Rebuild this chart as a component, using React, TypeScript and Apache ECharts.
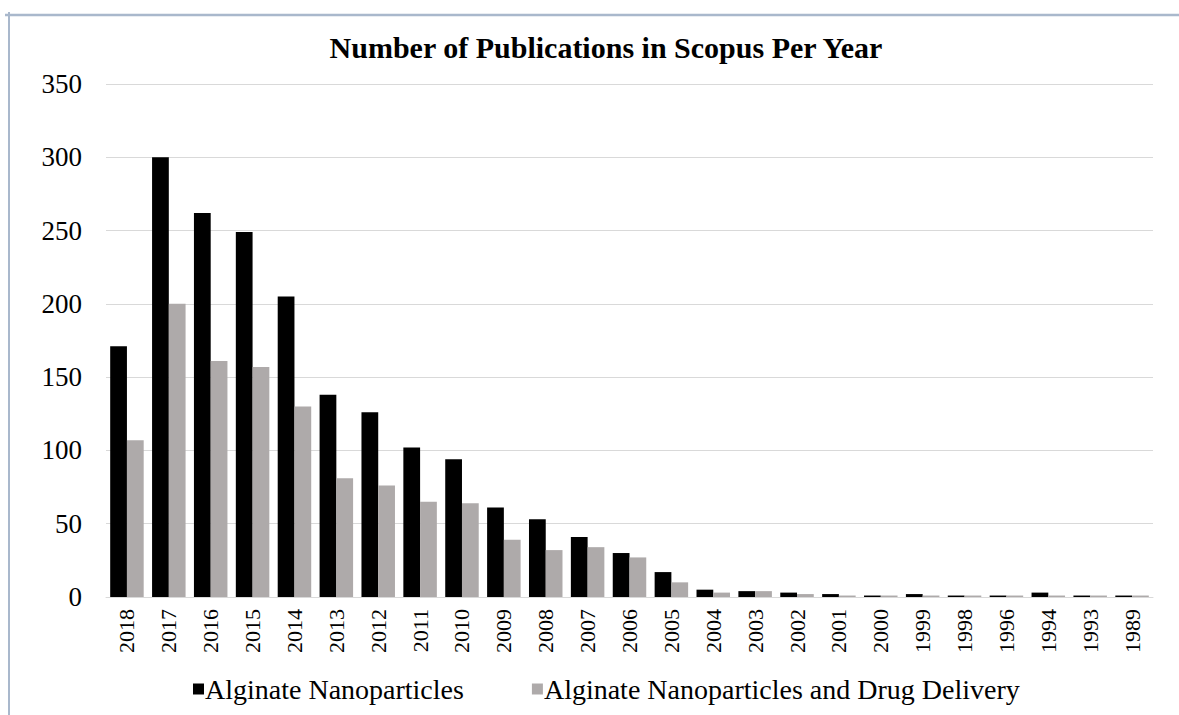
import React, { useEffect, useRef } from "react";
import * as echarts from "echarts";

const years = ["2018","2017","2016","2015","2014","2013","2012","2011","2010","2009","2008","2007","2006","2005","2004","2003","2002","2001","2000","1999","1998","1996","1994","1993","1989"];
const alginateNano = [171,300,262,249,205,138,126,102,94,61,53,41,30,17,5,4,3,2,1,2,1,1,3,1,1];
const alginateDrug = [107,200,161,157,130,81,76,65,64,39,32,34,27,10,3,4,2,1,1,1,1,1,1,1,1];
const seriesNames = ["Alginate Nanoparticles", "Alginate Nanoparticles and Drug Delivery"];
const titleText = "Number of Publications in Scopus Per Year";

const FONT = '"Liberation Serif", "Times New Roman", serif';

export default function App() {
  const ref = useRef<HTMLDivElement>(null);
  useEffect(() => {
    if (!ref.current) return;
    const chart = echarts.init(ref.current, null, { renderer: "svg" });
    chart.setOption({
      animation: false,
      backgroundColor: "#ffffff",
      title: {
        text: titleText,
        left: 601,
        textAlign: "center",
        top: 27,
        textStyle: { fontFamily: FONT, fontSize: 30, fontWeight: "bold", color: "#000" },
      },
      legend: {
        left: 188,
        top: 670,
        itemWidth: 11,
        itemHeight: 11,
        itemGap: 68,
        icon: "rect",
        textStyle: { fontFamily: FONT, fontSize: 28, color: "#000", padding: [0, 0, 0, -4] },
        data: seriesNames,
      },
      grid: { left: 106, right: 26, top: 84, bottom: 118, containLabel: false },
      xAxis: {
        type: "category",
        data: years,
        axisLine: { show: true, lineStyle: { color: "#d9d9d9", width: 1 } },
        axisTick: { show: false },
        axisLabel: { rotate: 90, fontFamily: FONT, fontSize: 22, color: "#000", margin: 12 },
      },
      yAxis: {
        type: "value",
        min: 0,
        max: 350,
        interval: 50,
        axisLine: { show: false },
        axisTick: { show: false },
        splitLine: { lineStyle: { color: "#d9d9d9", width: 1 } },
        axisLabel: { fontFamily: FONT, fontSize: 27, color: "#000", margin: 24 },
      },
      series: [
        {
          name: seriesNames[0],
          type: "bar",
          data: alginateNano,
          itemStyle: { color: "#000000" },
          barGap: "0%",
          barCategoryGap: "20%",
        },
        {
          name: seriesNames[1],
          type: "bar",
          data: alginateDrug,
          itemStyle: { color: "#aeaaaa" },
          barGap: "0%",
          barCategoryGap: "20%",
        },
      ],
      graphic: [
        { type: "line", shape: { x1: 5, y1: 15, x2: 1179, y2: 15 }, style: { stroke: "#a9b8cc", lineWidth: 2.5 } },
        { type: "line", shape: { x1: 9, y1: 12, x2: 9, y2: 715 }, style: { stroke: "#a9b8cc", lineWidth: 2 } },
      ],
    });
    return () => chart.dispose();
  }, []);
  return (
    <div
      ref={ref}
      style={{ position: "absolute", left: 0, top: 0, width: 1179, height: 715 }}
    />
  );
}
